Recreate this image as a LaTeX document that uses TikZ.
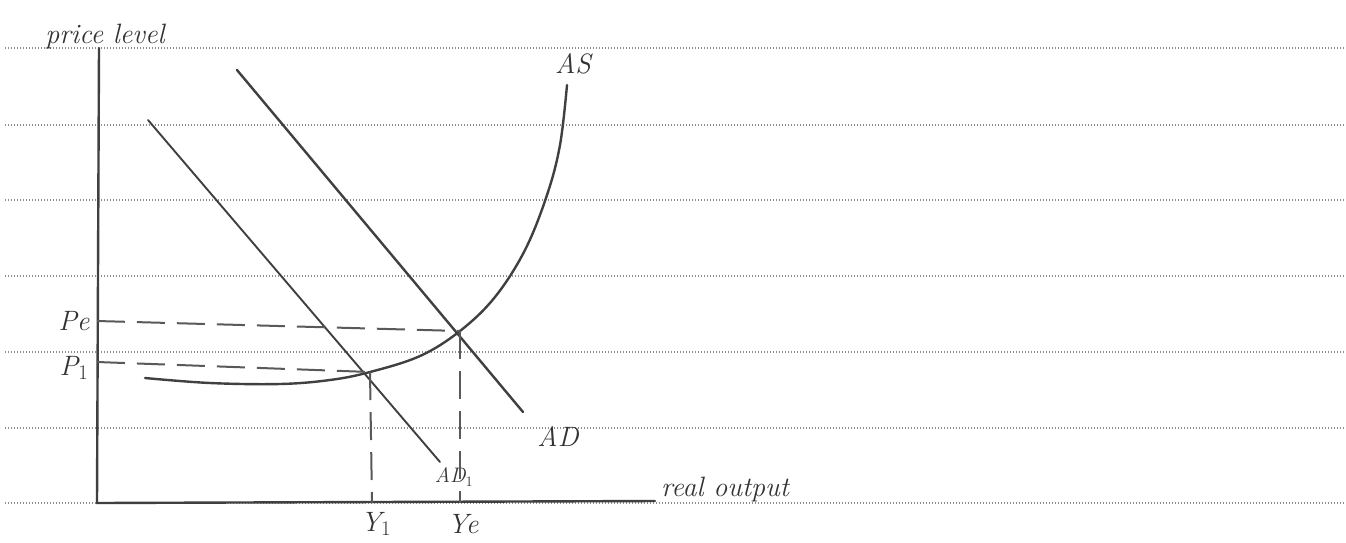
\documentclass[tikz,border=0pt]{standalone}
\usepackage{tikz}
\begin{document}
\begin{tikzpicture}[x=1pt,y=-1pt,
  ruled/.style={draw=gray!90, line width=1.3pt, dash pattern=on 1.3pt off 1.7pt},
  pen/.style={draw=black!75, line width=2.4pt, line cap=round},
  guide/.style={draw=black!65, line width=2pt, dash pattern=on 28pt off 12pt},
  lbl/.style={font=\fontsize{28}{30}\selectfont\itshape, text=black!80, inner sep=1pt}]
\useasboundingbox (0,0) rectangle (1346,542);
\fill[white] (0,0) rectangle (1346,542);
% ruled paper
\foreach \yy in {48,125,200,276,352,428,503}
  \draw[ruled] (5,\yy) -- (1346,\yy);
% axes
\coordinate (O) at (97,503);
\coordinate (Ytop) at (99,48);
\coordinate (Xend) at (655,501);
\draw[pen] (Ytop) -- (O) -- (Xend);
\node[lbl] (plabel) at (105,36) {price level};
\node[lbl, anchor=west] (xlabel) at (660,489) {real output};
% equilibria
\coordinate (E1) at (370,372);
\coordinate (Ee) at (460,331);
\coordinate (Pe) at (97,321);
\coordinate (P1) at (97,362);
\coordinate (Y1) at (372,503);
\coordinate (Ye) at (460,503);
% AS curve
\draw[pen] plot[smooth, tension=0.6] coordinates {(145,378) (210,383) (280,384) (330,380) (370,372) (420,356) (460,331) (495,297) (525,250) (547,195) (560,145) (567,85)};
\node[lbl] (AS) at (573,64) {AS};
% AD curves
\coordinate (ADa) at (237,70);
\coordinate (ADb) at (523,412);
\draw[pen] (ADa) -- (ADb);
\node[lbl] (AD) at (558,436) {AD};
\coordinate (AD1a) at (148,120);
\coordinate (AD1b) at (440,462);
\draw[pen, line width=1.9pt] (AD1a) -- (AD1b);
\node[lbl, font=\fontsize{21}{23}\selectfont\itshape] (AD1) at (454,477) {AD$_1$};
% dashed guides
\draw[guide] (Pe) -- (Ee);
\draw[guide] (P1) -- (E1);
\draw[guide] (E1) -- (Y1);
\draw[guide] (Ee) -- (Ye);
% axis labels
\node[lbl] (PeL) at (74,321) {Pe};
\node[lbl] (P1L) at (74,368) {P$_1$};
\node[lbl] (Y1L) at (376,524) {Y$_1$};
\node[lbl] (YeL) at (463,524) {Ye};
\end{tikzpicture}
\end{document}
